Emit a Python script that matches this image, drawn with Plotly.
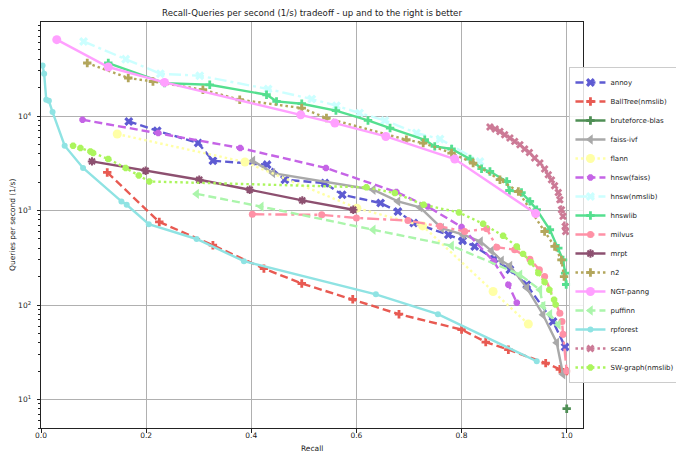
import plotly.graph_objects as go

# ---------------- data ----------------
annoy_recall = [0.167, 0.221, 0.299, 0.327, 0.430, 0.464, 0.540, 0.573, 0.646, 0.679, 0.709, 0.775, 0.802, 0.825, 0.862, 0.892, 0.924, 0.974, 0.997]
annoy_qps = [8770, 6980, 5180, 3360, 3060, 2120, 1950, 1470, 1200, 977, 738, 555, 479, 417, 307, 237, 164, 67, 36]

balltree_recall = [0.126, 0.225, 0.327, 0.424, 0.496, 0.593, 0.681, 0.800, 0.846, 0.889, 0.960, 0.987, 1.000]
balltree_qps = [2530, 757, 430, 243, 169, 115, 80, 55, 40.6, 33.7, 24.3, 20.9, 20.0]

bruteforce_recall = [1.000]
bruteforce_qps = [8.0]

faiss_ivf_recall = [0.403, 0.441, 0.632, 0.679, 0.721, 0.762, 0.803, 0.836, 0.857, 0.876, 0.892, 0.924, 0.955, 0.981, 0.993]
faiss_ivf_qps = [3360, 2490, 1660, 1250, 1080, 650, 555, 470, 375, 295, 260, 152, 79, 40, 18.5]

flann_recall = [0.145, 0.388, 0.601, 0.726, 0.860, 0.927]
flann_qps = [6450, 3260, 1060, 688, 139, 63]

hnsw_faiss_recall = [0.079, 0.223, 0.379, 0.542, 0.676, 0.736, 0.800, 0.861, 0.889, 0.905]
hnsw_faiss_qps = [9140, 6610, 4590, 2820, 1570, 1100, 670, 290, 164, 106]

hnsw_nmslib_recall = [0.081, 0.161, 0.227, 0.302, 0.432, 0.515, 0.562, 0.606, 0.654, 0.714, 0.759, 0.835]
hnsw_nmslib_qps = [61600, 40000, 28000, 26700, 19300, 15130, 12850, 10750, 8980, 6610, 5700, 3300]

hnswlib_recall = [0.128, 0.235, 0.321, 0.429, 0.448, 0.496, 0.561, 0.622, 0.664, 0.730, 0.749, 0.781, 0.816, 0.838, 0.854, 0.886, 0.891, 0.914, 0.930, 0.943, 0.968, 0.984, 0.993, 0.997, 0.999]
hnswlib_qps = [36400, 22300, 21400, 16800, 14300, 13500, 11400, 8980, 7460, 5610, 4770, 4480, 3510, 2770, 2590, 2030, 1630, 1550, 1250, 1020, 626, 400, 300, 218, 165]

milvus_recall = [0.402, 0.534, 0.600, 0.698, 0.759, 0.806, 0.848, 0.867, 0.901, 0.930, 0.948, 0.958, 0.987, 0.991, 0.993, 1.000]
milvus_qps = [914, 900, 834, 785, 680, 600, 640, 410, 385, 306, 237, 200, 82, 67, 49, 20]

mrpt_recall = [0.097, 0.199, 0.301, 0.397, 0.497, 0.594]
mrpt_qps = [3310, 2640, 2120, 1660, 1280, 1020]

n2_recall = [0.088, 0.166, 0.213, 0.308, 0.378, 0.496, 0.543, 0.695, 0.727, 0.781, 0.822, 0.873, 0.908, 0.958, 0.977, 0.990, 0.995]
n2_qps = [36400, 25250, 23200, 19000, 14870, 12150, 9520, 5610, 5180, 4060, 3180, 2120, 1590, 600, 417, 300, 200]

ngt_recall = [0.030, 0.128, 0.235, 0.494, 0.559, 0.656, 0.787, 0.941]
ngt_qps = [64300, 33000, 22700, 10300, 8430, 6080, 3510, 928]

puffinn_recall = [0.296, 0.419, 0.632, 0.781, 0.911, 0.949, 0.955, 0.968, 0.984]
puffinn_qps = [1500, 1100, 626, 424, 210, 145, 98, 80, 62]

rpforest_recall = [0.003, 0.006, 0.010, 0.015, 0.022, 0.045, 0.080, 0.153, 0.163, 0.205, 0.296, 0.386, 0.637, 0.755, 0.943]
rpforest_qps = [34300, 28000, 14900, 14500, 11000, 4850, 2820, 1250, 1150, 716, 500, 291, 130, 80, 25.4]

scann_recall = [0.854, 0.864, 0.873, 0.882, 0.892, 0.901, 0.911, 0.920, 0.929, 0.939, 0.949, 0.958, 0.965, 0.971, 0.977, 0.984, 0.987, 0.990, 0.993, 0.997, 0.998]
scann_qps = [7650, 7290, 6870, 6340, 5850, 5390, 4970, 4480, 4120, 3600, 3180, 2750, 2390, 2110, 1830, 1550, 1300, 1020, 870, 680, 600]

swgraph_recall = [0.061, 0.075, 0.094, 0.099, 0.128, 0.161, 0.186, 0.206, 0.619, 0.673, 0.728, 0.795, 0.841, 0.879, 0.905, 0.917, 0.932, 0.946, 0.958, 0.967, 0.976, 0.979]
swgraph_qps = [4850, 4590, 4220, 4070, 3510, 2820, 2350, 2030, 1760, 1530, 1150, 954, 724, 540, 417, 348, 283, 218, 175, 145, 114, 101]

algorithm_names = ["annoy", "BallTree(nmslib)", "bruteforce-blas", "faiss-ivf", "flann", "hnsw(faiss)",
                   "hnsw(nmslib)", "hnswlib", "milvus", "mrpt", "n2", "NGT-panng", "puffinn",
                   "rpforest", "scann", "SW-graph(nmslib)"]
recalls = [annoy_recall, balltree_recall, bruteforce_recall, faiss_ivf_recall, flann_recall,
           hnsw_faiss_recall, hnsw_nmslib_recall, hnswlib_recall, milvus_recall, mrpt_recall,
           n2_recall, ngt_recall, puffinn_recall, rpforest_recall, scann_recall, swgraph_recall]
qps = [annoy_qps, balltree_qps, bruteforce_qps, faiss_ivf_qps, flann_qps, hnsw_faiss_qps,
       hnsw_nmslib_qps, hnswlib_qps, milvus_qps, mrpt_qps, n2_qps, ngt_qps, puffinn_qps,
       rpforest_qps, scann_qps, swgraph_qps]

x_tick_values = [0.0, 0.2, 0.4, 0.6, 0.8, 1.0]
y_tick_values = [10, 100, 1000, 10000]
y_tick_labels = ["10<sup>1</sup>", "10<sup>2</sup>", "10<sup>3</sup>", "10<sup>4</sup>"]

# ---------------- styles ----------------
DASH = "8px,4px"
DASHDOT = "12px,4px,3px,4px"
DOT = "2.5px,3px"
styles = [
    dict(color="#5e5bd2", dash=DASH, symbol="x", size=8),
    dict(color="#e85a52", dash=DASH, symbol="cross", size=7),
    dict(color="#4f8f55", dash="solid", symbol="cross", size=7),
    dict(color="#a9a9a9", dash="solid", symbol="triangle-left", size=9),
    dict(color="#ffffa6", dash=DOT, symbol="circle", size=9),
    dict(color="#c564e6", dash=DASH, symbol="octagon", size=7),
    dict(color="#ccffff", dash=DASHDOT, symbol="x", size=8),
    dict(color="#55df8f", dash="solid", symbol="cross", size=7),
    dict(color="#ff91a6", dash=DASHDOT, symbol="circle", size=7),
    dict(color="#8d5070", dash="solid", symbol="asterisk-open", size=7),
    dict(color="#b3a65c", dash=DOT, symbol="cross", size=7),
    dict(color="#ffa0ff", dash="solid", symbol="circle", size=9),
    dict(color="#abf5ab", dash=DASH, symbol="triangle-left", size=9),
    dict(color="#8fe3e3", dash="solid", symbol="circle", size=6),
    dict(color="#cc7a96", dash=DOT, symbol="x", size=7),
    dict(color="#abf55d", dash=DOT, symbol="octagon", size=7),
]

fig = go.Figure()
for name, xs, ys, st in zip(algorithm_names, recalls, qps, styles):
    marker = dict(symbol=st["symbol"], size=st["size"], color=st["color"])
    if st["symbol"] == "asterisk-open":
        marker["line"] = dict(color=st["color"], width=2)
    fig.add_trace(go.Scatter(
        x=xs, y=ys, name=name, mode="lines+markers",
        line=dict(color=st["color"], width=2.4, dash=st["dash"]),
        marker=marker,
    ))

FONT = "DejaVu Sans"
axis_common = dict(
    showline=True, linecolor="#222222", linewidth=1, mirror=True,
    showgrid=True, gridcolor="#b0b0b0", gridwidth=1,
    ticks="outside", ticklen=3.5, tickcolor="#222222",
    tickfont=dict(family=FONT, size=7.5, color="#222222"),
    zeroline=False, automargin=False,
)

fig.update_layout(
    width=676, height=453,
    margin=dict(l=41, r=93, t=22, b=25, autoexpand=False),
    paper_bgcolor="white", plot_bgcolor="white",
    font=dict(family=FONT, color="#222222"),
    title=dict(text="Recall-Queries per second (1/s) tradeoff - up and to the right is better",
               x=0.5, xref="paper", xanchor="center", y=1 - 12.5 / 453, yanchor="middle",
               font=dict(family=FONT, size=8.6, color="#222222")),
    xaxis=dict(range=[0, 1.031], tickvals=x_tick_values, tickformat=".1f",
               ticklabelstandoff=-4, **axis_common),
    yaxis=dict(type="log", range=[0.699, 4.995], tickvals=y_tick_values, ticktext=y_tick_labels,
               ticklabelstandoff=4,
               minor=dict(tickvals=[m * d for d in [1, 10, 100, 1000, 10000] for m in range(2, 10)],
                          ticks="outside", ticklen=2, tickcolor="#222222", showgrid=False),
               **axis_common),
    legend=dict(x=0.975, xanchor="left", y=0.5, yanchor="middle",
                bgcolor="rgba(255,255,255,0.85)", bordercolor="#cccccc", borderwidth=1,
                font=dict(family=FONT, size=7, color="#222222"), itemwidth=30,
                tracegroupgap=0),
    showlegend=True,
    annotations=[
        dict(text="Recall", xref="paper", yref="paper", x=0.5, y=0, xanchor="center",
             yanchor="middle", yshift=-20, showarrow=False,
             font=dict(family=FONT, size=7.5, color="#222222")),
        dict(text="Queries per second (1/s)", xref="paper", yref="paper", x=0, y=0.5,
             xanchor="center", yanchor="middle", xshift=-29, textangle=-90, showarrow=False,
             font=dict(family=FONT, size=7.5, color="#222222")),
    ],
)

fig.write_html("out.html", config={"displayModeBar": False},
               post_script="document.body.style.margin='0';document.body.style.padding='0';")
